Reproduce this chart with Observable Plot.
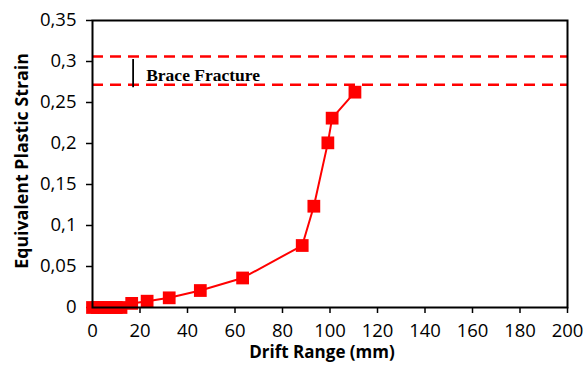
<!DOCTYPE html>
<html><head><meta charset="utf-8">
<script src="https://cdn.jsdelivr.net/npm/d3@7"></script>
<script src="https://cdn.jsdelivr.net/npm/@observablehq/plot@0.6"></script>
<style>
body{margin:0;background:#fff}
#chart svg{font-family:"Open Sans",sans-serif;background:#fff}
</style></head><body><div id="chart"></div>
<script>
// Data
const drift  = [0, 2, 5, 7, 10, 12, 16.5, 23, 32.3, 45.4, 63.2, 88.3, 93.2, 99.1, 100.9, 110.5];
const strain = [0, 0, 0, 0, 0, 0, 0.005, 0.0077, 0.0118, 0.0207, 0.036, 0.0756, 0.1235, 0.2008, 0.2309, 0.2626];

const xTicks = [0, 20, 40, 60, 80, 100, 120, 140, 160, 180, 200];
const yTicks = [0, 0.05, 0.1, 0.15, 0.2, 0.25, 0.3, 0.35];
const yTickLabels = ["0", "0,05", "0,1", "0,15", "0,2", "0,25", "0,3", "0,35"];

const fractureBounds = [0.306, 0.2715];
const bracketX = [17.1];
const bracketY1 = [0.268];
const bracketY2 = [0.3024];
const noteX = [22.6];
const noteY = [0.283];
const noteText = ["Brace Fracture"];

const xTitle = ["Drift Range (mm)"];
const yTitle = ["Equivalent Plastic Strain"];

const points = drift.map((d, i) => ({drift: d, strain: strain[i]}));

const chart = Plot.plot({
  width: 584,
  height: 365,
  marginLeft: 92,
  marginRight: 17,
  marginTop: 20,
  marginBottom: 58,
  style: {fontFamily: "Open Sans", color: "black"},
  x: {domain: [0, 200]},
  y: {domain: [0, 0.35]},
  marks: [
    Plot.axisX({ticks: xTicks, tickSize: 6, tickPadding: 10, label: null, fontSize: 18.5,
                fontFamily: "Open Sans", strokeWidth: 1.5}),
    Plot.axisY({ticks: yTicks, tickSize: 6, tickPadding: 10, label: null, fontSize: 18.5,
                fontFamily: "Open Sans", strokeWidth: 1.5,
                tickFormat: d => yTickLabels[yTicks.indexOf(d)]}),
    Plot.ruleY(fractureBounds, {stroke: "#ff0000", strokeWidth: 2.5, strokeDasharray: "11,7"}),
    Plot.ruleX(bracketX.map((x, i) => ({x, y1: bracketY1[i], y2: bracketY2[i]})),
      {x: "x", y1: "y1", y2: "y2", stroke: "black", strokeWidth: 1.8}),
    Plot.text(noteText.map((t, i) => ({t, x: noteX[i], y: noteY[i]})),
      {x: "x", y: "y", text: "t", textAnchor: "start", fontFamily: "Liberation Serif",
       fontWeight: "bold", fontSize: 17.5, fill: "black"}),
    Plot.line(points, {x: "drift", y: "strain", stroke: "#ff0000", strokeWidth: 2}),
    Plot.dot(points, {x: "drift", y: "strain", symbol: "square", r: 7.2, fill: "#ff0000", stroke: "none"}),
    Plot.frame({stroke: "black", strokeWidth: 2}),
    Plot.text(xTitle, {frameAnchor: "bottom", dy: 50, dx: -8, fontWeight: "bold", fontSize: 17, fill: "black"}),
    Plot.text(yTitle, {frameAnchor: "left", textAnchor: "middle", dx: -70, dy: -3, rotate: -90, fontWeight: "bold", fontSize: 17.8, fill: "black"})
  ]
});
document.getElementById("chart").appendChild(chart);
</script></body></html>
